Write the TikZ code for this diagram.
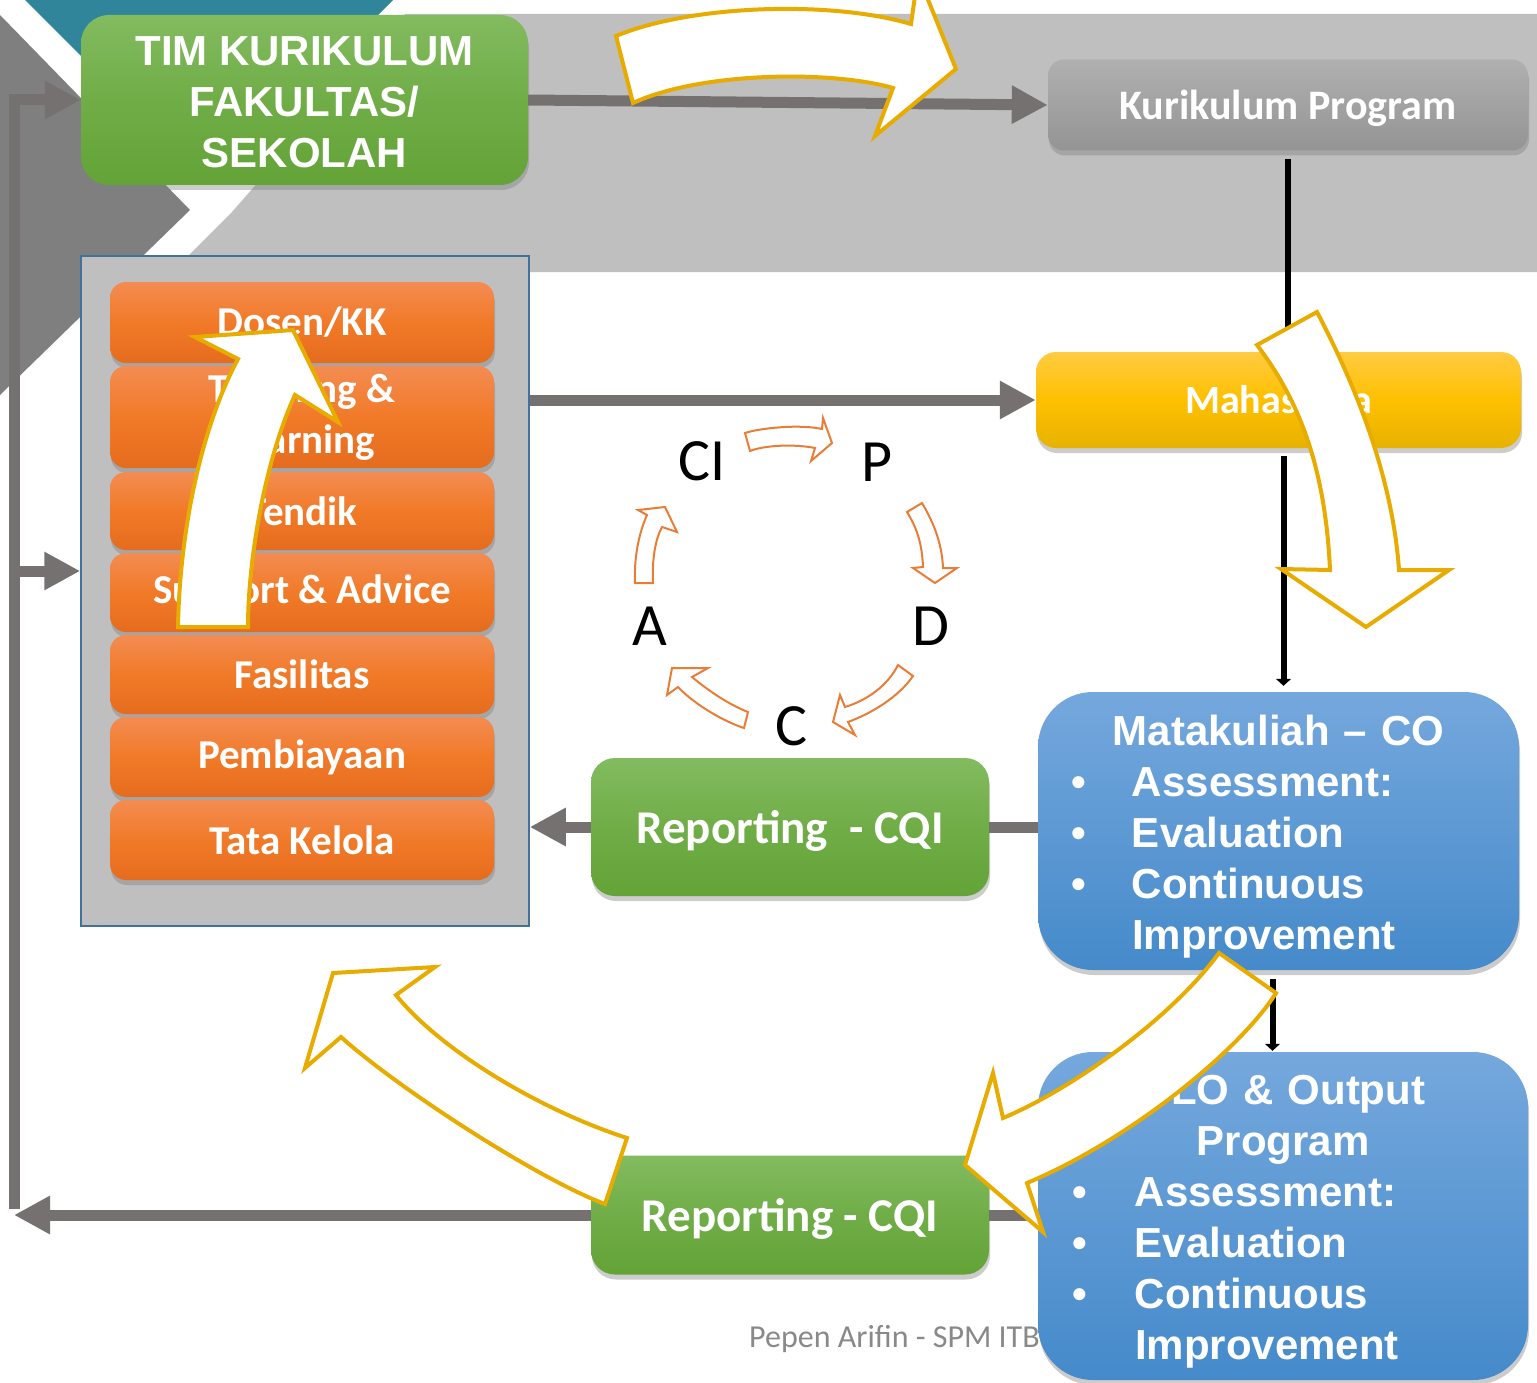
\documentclass[tikz,border=0pt]{standalone}
\usepackage{fontspec}
\setmainfont{Carlito}
\newfontfamily\arialfont{Liberation Sans}
\usepackage{tikz}
\usetikzlibrary{shadows}
\usetikzlibrary{positioning}
\usetikzlibrary{arrows.meta,calc}
\definecolor{bandgray}{RGB}{191,191,191}
\definecolor{chevgray}{RGB}{127,127,127}
\definecolor{tealtri}{RGB}{49,133,155}
\definecolor{unitblue}{RGB}{65,113,156}
\definecolor{linkgray}{RGB}{118,113,113}
\definecolor{goldline}{RGB}{232,172,0}
\definecolor{pdcaorange}{RGB}{232,125,55}
\definecolor{footgray}{RGB}{137,137,137}
\definecolor{greentop}{RGB}{131,187,96}
\definecolor{greenmid}{RGB}{112,173,71}
\definecolor{greenbot}{RGB}{99,163,55}
\definecolor{orangetop}{RGB}{243,140,82}
\definecolor{orangemid}{RGB}{241,122,40}
\definecolor{orangebot}{RGB}{229,108,30}
\definecolor{graytop}{RGB}{176,176,176}
\definecolor{graybot}{RGB}{148,148,148}
\definecolor{yellowtop}{RGB}{255,203,66}
\definecolor{yellowmid}{RGB}{255,192,0}
\definecolor{yellowbot}{RGB}{230,178,0}
\definecolor{bluetop}{RGB}{117,168,221}
\definecolor{bluebot}{RGB}{69,138,202}
\tikzstyle{panel}=[rounded corners=16pt, inner sep=0pt, text=white, drop shadow={shadow xshift=1pt, shadow yshift=-5pt, opacity=0.4}]
\tikzstyle{greenbox}=[panel, top color=greentop, bottom color=greenbot, middle color=greenmid]
\tikzstyle{orangebox}=[panel, top color=orangetop, bottom color=orangebot, middle color=orangemid, minimum width=384pt, align=center, font=\bfseries\fontsize{41}{51}\selectfont]
\tikzstyle{graybox}=[panel, top color=graytop, bottom color=graybot]
\tikzstyle{yellowbox}=[panel, top color=yellowtop, bottom color=yellowbot, middle color=yellowmid]
\tikzstyle{bluebox}=[panel, rounded corners=55pt, top color=bluetop, bottom color=bluebot, align=left, font=\arialfont\bfseries\fontsize{42}{51}\selectfont]
\tikzstyle{reportbox}=[greenbox, rounded corners=24pt, minimum width=398pt, text depth=0pt, font=\bfseries\fontsize{47}{56}\selectfont]
\tikzstyle{pdca}=[inner sep=0pt, font=\fontsize{60}{72}\selectfont]
\tikzstyle{linkline}=[draw=linkgray, line width=11pt]
\tikzstyle{linkarrow}=[linkline, -{Triangle[length=36pt,width=36pt]}]
\tikzstyle{blackline}=[draw=black, line width=6pt]
\tikzstyle{bigarrow}=[fill=white, draw=goldline, line width=4pt, line join=miter]
\tikzstyle{cyclearrow}=[fill=white, draw=pdcaorange, line width=2pt]

\begin{document}
\begin{tikzpicture}[x=1pt, y=-1pt]
    % canvas and background chevrons
    \useasboundingbox (0,0) rectangle (1537,1383);
    \fill[white] (0,0) rectangle (1537,1383);
    \fill[bandgray] (405,14) -- (1537,14) -- (1537,272) -- (172,272) -- (232,212) -- cycle;
    \fill[chevgray] (0,15) -- (190,210) -- (0,395) -- cycle;
    \fill[tealtri] (25,0) -- (393,0) -- (209,184) -- cycle;

    % unit box with the resources
    \node[draw=unitblue, line width=1.5pt, fill=bandgray, minimum width=448pt, minimum height=670pt] (unit) at (305,591) {};
    \foreach \name/\ypos/\hgt/\txt in {dosen/322.5/81pt/{Dosen/KK}, tl/417/102pt/{Teaching \&\\Learning}, tendik/511/78pt/{Tendik}, support/592.5/79pt/{Support \& Advice}, fasilitas/674.5/79pt/{Fasilitas}, biaya/757/80pt/{Pembiayaan}, tata/840/80pt/{Tata Kelola}}
        \node[orangebox, minimum height=\hgt] (\name) at (302,\ypos) {\txt};

    % main boxes
    \node[greenbox, rounded corners=28pt, minimum width=447pt, minimum height=170pt, align=center, font=\arialfont\bfseries\fontsize{42}{51}\selectfont] (tim) at (304.5,100) {\rule{0pt}{33pt}TIM KURIKULUM\\FAKULTAS/\\SEKOLAH};
    \node[graybox, minimum width=480pt, minimum height=91pt, text depth=0pt, font=\bfseries\fontsize{42}{50}\selectfont] (kuri) at (1288,105) {Kurikulum Program};
    \node[yellowbox, rounded corners=20pt, minimum width=485pt, minimum height=96pt, font=\bfseries\fontsize{40}{48}\selectfont] (maha) at (1278.5,400) {Mahasiswa};
    \node[bluebox, minimum width=481pt, minimum height=278pt, text width=441pt] (mata) at (1278.5,831)
        {\makebox[441pt][c]{\rule{0pt}{41pt}Matakuliah – CO}\\
         \hspace*{13pt}\makebox[61pt][l]{\textbullet}Assessment:\\
         \hspace*{13pt}\makebox[61pt][l]{\textbullet}Evaluation\\
         \hspace*{13pt}\makebox[61pt][l]{\textbullet}Continuous\\
         \hspace*{74pt}Improvement};
    \node[reportbox, minimum height=138pt] (rep1) at (790,827) {Reporting\ \ - CQI};
    \node[reportbox, minimum height=119pt] (rep2) at (790,1215) {Reporting - CQI};
    \node[anchor=west, inner sep=0pt, text=footgray, font=\fontsize{32}{38}\selectfont] (credit) at (749,1339) {Pepen Arifin - SPM ITB};
    \node[bluebox, minimum width=490pt, minimum height=328pt, text width=450pt] (clo) at (1283,1216)
        {\makebox[450pt][c]{\rule{0pt}{41pt}CLO \& Output}\\
         \makebox[450pt][c]{Program}\\
         \hspace*{14pt}\makebox[63pt][l]{\textbullet}Assessment:\\
         \hspace*{14pt}\makebox[63pt][l]{\textbullet}Evaluation\\
         \hspace*{14pt}\makebox[63pt][l]{\textbullet}Continuous\\
         \hspace*{77pt}Improvement};

    % PDCA letters
    \node[pdca] (ci) at (702,461) {CI};
    \node[pdca] (p) at (877,462) {P};
    \node[pdca] (d) at (931,626) {D};
    \node[pdca] (c) at (791,726) {C};
    \node[pdca] (a) at (650,626) {A};

    % gray links
    \coordinate (railbot) at (14,1209);
    \coordinate (railtap) at (14,571);
    \draw[linkarrow] (tim.east) -- (kuri.west);
    \draw[linkarrow] (unit.east |- maha.west) -- (maha.west);
    \draw[linkline] (mata.west |- rep1.east) -- (rep1.east);
    \draw[linkarrow] (rep1.west) -- (rep1.west -| unit.east);
    \draw[linkline] (clo.west |- rep2.east) -- (rep2.east);
    \draw[linkarrow] (rep2.west) -- (rep2.west -| railbot);
    \draw[linkarrow] (railbot) |- (tim.west);
    \draw[linkarrow] (railtap) -- (railtap -| unit.west);

    % black links
    \draw[blackline, shorten <=8pt] (kuri.south) -- (kuri.south |- maha.north);
    \draw[blackline, shorten <=8pt, shorten >=6pt, -{Triangle[length=7pt,width=15pt]}] ([xshift=5pt]maha.south) -- ([xshift=5pt]maha.south |- mata.north);
    \draw[blackline, shorten <=9pt, shorten >=1pt, -{Triangle[length=7pt,width=15pt]}] ([xshift=-6pt]mata.south) -- ([xshift=-6pt]mata.south |- clo.north);

    % PDCA cycle arrows
    \draw[cyclearrow] (745,433) .. controls (760,428) and (800,424) .. (822,429) -- (823,418) -- (832,443) -- (811,461) -- (815,448) .. controls (795,444) and (765,445) .. (750,451) -- cycle;
    \draw[cyclearrow] (907,512) -- (922,503) .. controls (935,525) and (942,545) .. (943,568) -- (957,568) -- (935,583) -- (913,568) -- (923,567) .. controls (922,545) and (918,530) .. (907,512) -- cycle;
    \draw[cyclearrow] (898,665) -- (913,676) .. controls (900,695) and (875,712) .. (848,722) -- (855,735) -- (833,722) -- (840,695) -- (845,707) .. controls (868,700) and (888,685) .. (898,665) -- cycle;
    \draw[cyclearrow] (748,712) -- (744,728) .. controls (725,722) and (695,705) .. (678,687) -- (667,695) -- (672,668) -- (708,668) -- (692,677) .. controls (710,692) and (730,705) .. (748,712) -- cycle;
    \draw[cyclearrow] (635,583) .. controls (634,560) and (638,535) .. (647,515) -- (638,510) -- (665,507) -- (677,532) -- (662,527) .. controls (655,540) and (652,560) .. (653,583) -- cycle;

    % big white arrows
    \draw[bigarrow] (633,103) -- (616,36) .. controls (690,5) and (830,0) .. (911,24) -- (918,-25) -- (956,69) -- (875,136) -- (893,88) .. controls (830,70) and (700,72) .. cycle;
    \draw[bigarrow] (1257,345) -- (1317,312) .. controls (1350,375) and (1392,470) .. (1399,570) -- (1449,570) -- (1366,627) -- (1281,569) -- (1330,570) .. controls (1325,460) and (1295,395) .. cycle;
    \draw[bigarrow] (1219,953) -- (1276,993) .. controls (1240,1050) and (1130,1140) .. (1027,1183) -- (1043,1232) -- (965,1165) -- (993,1073) -- (1003,1118) .. controls (1070,1090) and (1170,1020) .. cycle;
    \draw[bigarrow] (627,1138) -- (605,1204) .. controls (540,1180) and (400,1090) .. (341,1037) -- (305,1068) -- (333,973) -- (435,967) -- (396,995) .. controls (440,1050) and (540,1110) .. cycle;
    \draw[bigarrow] (178,627) -- (248,627) .. controls (248,560) and (265,460) .. (295,395) -- (338,422) -- (293,330) -- (195,337) -- (238,359) .. controls (205,420) and (180,520) .. cycle;
\end{tikzpicture}
\end{document}
